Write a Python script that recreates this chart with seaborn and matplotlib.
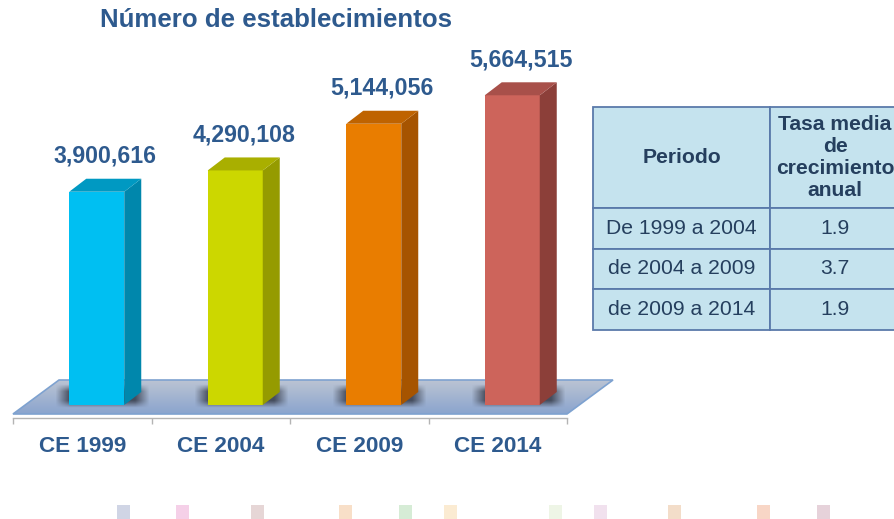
import numpy as np
import pandas as pd
import seaborn as sns
import matplotlib
matplotlib.use('Agg')
import matplotlib.pyplot as plt
from matplotlib.patches import Polygon, Rectangle
from matplotlib.colors import LinearSegmentedColormap

censos = ['CE 1999', 'CE 2004', 'CE 2009', 'CE 2014']
establecimientos = [3900616, 4290108, 5144056, 5664515]
colores_frente = ['#00BFF2', '#CCD700', '#E97D00', '#CD645B']
colores_lado = ['#0087AC', '#959B00', '#A65400', '#8C3F39']
colores_tapa = ['#0099C2', '#A9AF00', '#BF6300', '#A8504A']

periodos = ['De 1999 a 2004', 'de 2004 a 2009', 'de 2009 a 2014']
tasas = ['1.9', '3.7', '1.9']
encabezados = ['Periodo', 'Tasa media\nde\ncrecimiento\nanual']

# cuadritos decorativos del pie
colores_pie = ['#D0D5E5', '#F5D0E8', '#E6D6D6', '#F8DFC8', '#D6ECD6', '#FBEBD2',
               '#EEF5E6', '#F1E1EE', '#F3DDC9', '#F8D6C6', '#E6D2DA']
x_pie = [117, 176, 251, 339, 399, 444, 549, 594, 668, 757, 817]

df = pd.DataFrame({'censo': censos, 'valor': establecimientos})

sns.set_style('white')
plt.rcParams['font.family'] = ['Liberation Sans', 'DejaVu Sans']

azul = '#2E5A8E'
W, H = 894, 519

fig = plt.figure(figsize=(W / 100, H / 100), dpi=100)
ax = fig.add_axes([0, 0, 1, 1])
ax.set_facecolor('none')

# escala: 1 px vertical = k establecimientos, 1 categoria = cat px
k = 18290
cat = 138.5
dx = 17 / cat
dy = 13 * k

sns.barplot(data=df, x='censo', y='valor', hue='censo', palette=colores_frente,
            width=55 / cat, legend=False, saturation=1, linewidth=0, ax=ax, zorder=5)

ax.set_xlabel('')
ax.set_ylabel('')
ax.set_yticks([])

# piso
fy0, fy1 = -9 * k, 25 * k
fdx = 46 / cat
piso = Polygon([(-0.5, fy0), (3.5, fy0), (3.5 + fdx, fy1), (-0.5 + fdx, fy1)],
               closed=True, facecolor='none', edgecolor='#7EA2D0', lw=1.2, zorder=2)
ax.add_patch(piso)
grad = np.linspace(0, 1, 100).reshape(-1, 1)
cmap = LinearSegmentedColormap.from_list('piso', ['#8AA4CE', '#BBC4D3'])
img = ax.imshow(grad, cmap=cmap, origin='lower', aspect='auto',
                extent=[-0.5, 3.5 + fdx, fy0, fy1], zorder=1)
img.set_clip_path(piso)

# sombra difusa
u = np.linspace(0, 1, 80)
v = np.linspace(0, 1, 40)
fx = np.clip(np.minimum(u / 0.15, (1 - u) / 0.15), 0, 1)
fy = np.clip(np.minimum(v / 0.3, (1 - v) / 0.3), 0, 1)
alfa = 0.75 * np.outer(fy, fx)
sombra = np.zeros((40, 80, 4))
sombra[..., :3] = np.array([40, 44, 56]) / 255
sombra[..., 3] = alfa

shift = 14.5 / cat
for i, cont in enumerate(ax.containers):
    p = cont[0]
    p.set_x(p.get_x() + shift)
    x0 = p.get_x()
    x1 = x0 + p.get_width()
    h = p.get_height()
    ax.imshow(sombra, origin='lower', aspect='auto', interpolation='bilinear',
              extent=[x0 - 14 / cat, x1 + 26 / cat, -3 * k, 21 * k], zorder=3)
    lado = Polygon([(x1, 0), (x1 + dx, dy), (x1 + dx, h + dy), (x1, h)],
                   closed=True, facecolor=colores_lado[i], lw=0, zorder=5)
    tapa = Polygon([(x0, h), (x0 + dx, h + dy), (x1 + dx, h + dy), (x1, h)],
                   closed=True, facecolor=colores_tapa[i], lw=0, zorder=5)
    ax.add_patch(lado)
    ax.add_patch(tapa)
    ax.annotate(f'{establecimientos[i]:,}', xy=((x0 + x1 + dx) / 2, h + dy),
                xytext=(0, 11.5), textcoords='offset points', ha='center', va='baseline',
                fontsize=16.7, fontweight='bold', color=azul, zorder=6)

ax.set_xlim(-0.5 - 13 / cat, -0.5 + (W - 13) / cat)
ax.set_ylim(-(H - 405) * k, 405 * k)

# eje de categorias
sns.despine(ax=ax, left=True)
ax.spines['bottom'].set_position(('data', -13 * k))
ax.spines['bottom'].set_bounds(-0.5, 3.5)
ax.spines['bottom'].set_color('#B4B4B4')
ax.spines['bottom'].set_linewidth(1)
ax.set_xticks(np.arange(-0.5, 4, 1), labels=[''] * 5)
ax.set_xticks(range(len(censos)), labels=censos, minor=True)
ax.tick_params(axis='x', which='major', bottom=True, direction='out', length=4.5, width=1,
               color='#B4B4B4')
ax.tick_params(axis='x', which='minor', bottom=True, length=0, pad=13, labelsize=16.2,
               labelcolor=azul)
for t in ax.get_xticklabels(minor=True):
    t.set_fontweight('bold')

fig.text(276 / W, 1 - 27 / H, 'Número de establecimientos', ha='center', va='baseline',
         fontsize=18.6, fontweight='bold', color=azul)

# tabla
tabla = ax.table(cellText=[[p, t] for p, t in zip(periodos, tasas)], colLabels=encabezados,
                 cellLoc='center', colWidths=[177, 130],
                 bbox=[593 / W, 1 - 330 / H, 307 / W, 223 / H])
tabla.auto_set_font_size(False)
for (r, c), cell in tabla.get_celld().items():
    cell.set_facecolor('#C5E3EE')
    cell.set_edgecolor('#5A7AAA')
    cell.set_linewidth(1.3)
    cell.set_height(101 if r == 0 else 40.7)
    txt = cell.get_text()
    txt.set_color('#253F5E')
    txt.set_fontsize(15.2)
    if r == 0:
        txt.set_fontweight('bold')
        txt.set_linespacing(1.2)
tabla.set_zorder(7)

for c, x in zip(colores_pie, x_pie):
    fig.add_artist(Rectangle((x / W, 0), 13 / W, 14 / H, transform=fig.transFigure,
                             facecolor=c, lw=0))

fig.savefig('out.png', dpi=100)
